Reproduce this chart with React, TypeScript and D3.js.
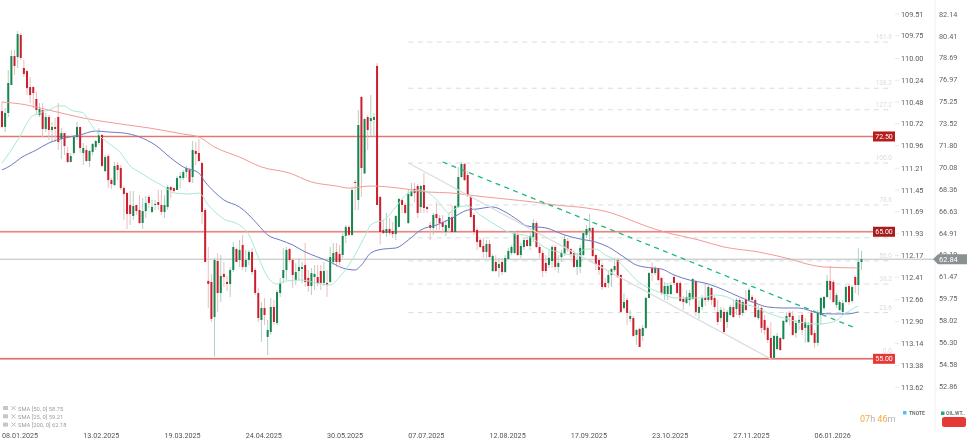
import * as d3 from "d3";

const WIDTH = 970;
const HEIGHT = 443;

// open, high, low, close
const candles: number[][] = [
  [74.5,75.21,73.17,73.25],[73.25,74.74,72.85,74.35],[74.35,77.73,74.03,76.71],[76.55,79.31,76.55,78.83],[78.83,79.31,77.34,78.05],
  [78.75,80.8,77.89,80.56],[80.49,80.64,78.52,78.68],[77.89,78.52,77.18,77.42],[77.65,77.73,75.76,76.31],[76.39,77.18,75.13,75.76],
  [76.39,76.47,74.74,75.92],[75.45,76,74.19,74.58],[74.19,75.13,74.03,74.66],[74.58,75.13,72.46,73.09],[73.09,74.35,72.85,74.03],
  [74.03,74.19,72.22,73.01],[73.01,73.64,72.06,73.25],[73.25,73.95,72.06,73.09],[74.03,75.13,71.44,72.06],[72.3,73.17,70.73,72.77],
  [72.77,72.77,71.04,71.75],[71.2,71.67,70.41,70.49],[70.49,71.2,70.49,70.96],[71.2,72.62,71.04,72.46],[72.46,73.64,72.22,73.25],
  [73.25,73.25,71.2,71.59],[71.2,71.99,70.25,71.59],[71.44,71.83,70.49,70.57],[70.57,71.44,70.1,71.36],[71.28,71.99,71.04,71.91],
  [71.67,72.22,71.44,72.14],[71.99,73.17,71.83,72.62],[72.62,72.69,70.1,70.18],[69.78,71.04,69.7,70.88],[70.96,71.12,68.44,69.07],
  [69.07,69.23,68.37,68.76],[68.68,70.49,68.6,70.18],[70.25,70.49,69.07,69.86],[70.02,70.25,68.29,68.44],[68.44,68.6,65.93,67.97],
  [68.05,68.13,65.22,66.4],[67.11,68.21,65.53,66.4],[66.24,68.21,65.93,67.03],[67.11,67.11,66.32,66.63],[66.71,67.89,65.61,65.69],
  [65.69,67.66,65.22,66.63],[66.63,67.81,66.08,67.26],[67.74,67.89,66.87,67.26],[66.56,67.5,66.48,66.95],[67.11,67.5,66.71,67.19],
  [67.34,68.29,66.71,67.11],[67.11,68.29,66.32,66.56],[66.56,67.89,66.08,67.11],[66.95,68.68,66.71,68.52],[68.52,68.6,67.66,68.29],
  [68.44,68.52,68.13,68.21],[68.29,69.39,68.29,69.23],[69.23,69.7,68.44,69.39],[69.23,69.86,69.07,69.7],[69.7,70.18,69.23,70.02],
  [69.86,70.02,68.84,68.92],[69.31,72.14,68.84,71.44],[71.36,72.06,70.25,71.12],[71.2,72.3,70.49,70.57],[70.41,70.49,65.61,66.56],
  [66.71,66.87,62.62,62.62],[61.13,63.8,59,60.89],[61.05,61.68,57.9,58.14],[58.29,62.94,55.16,62.78],[62.7,63.33,58.69,60.18],
  [60.18,63.17,59.47,61.52],[61.68,62.62,60.65,61.44],[61.05,61.52,60.34,60.89],[60.89,62.23,59.87,61.99],[61.99,64.19,61.83,63.8],
  [63.64,63.72,62.62,62.62],[62.78,64.35,62.23,63.57],[63.96,64.75,61.99,62.23],[62.23,63.57,61.83,62.78],[62.78,63.57,62.38,63.41],
  [63.41,63.72,61.6,61.83],[61.99,62.15,60.02,60.18],[60.18,60.57,57.9,58.21],[58.06,59.47,56.33,59],[59,59.79,57.66,58.45],
  [56.72,58.06,55.3,57.27],[57.11,59.79,56.88,59.08],[59.08,59.63,57.66,57.9],[57.82,60.42,57.66,60.26],[60.18,61.36,59.87,60.97],
  [61.36,63.72,60.97,61.99],[61.99,63.8,61.2,63.57],[63.64,63.72,62.62,62.78],[62.78,62.94,60.57,61.6],[61.2,62.54,60.81,61.83],
  [61.91,62.94,61.2,62.23],[62.07,62.62,60.97,62.23],[62.38,64.12,60.65,61.05],[61.36,61.99,60.26,60.73],[60.73,62.15,60.02,61.75],
  [61.44,62.38,60.42,61.68],[61.44,62.38,60.73,60.97],[61.91,62.38,60.42,60.97],[60.97,62.62,60.73,61.91],[60.97,61.99,59.87,60.81],
  [61.05,63.8,60.97,63.01],[62.62,64.12,62.38,63.33],[63.41,64.12,62.23,62.62],[63.25,63.96,62.38,62.62],[63.17,64.98,62.94,64.67],
  [64.67,65.53,64.12,65.38],[65.38,65.53,64.67,64.75],[64.75,68.44,64.67,68.29],[68.92,69.07,66.71,68.84],[67.5,74.58,66.71,73.4],
  [75.61,75.69,67.74,70.02],[69.59,73.95,69.55,73.87],[74.03,74.19,71.44,73.01],[73.72,75.76,72.46,73.95],[73.8,74.35,72.46,74.03],
  [78.05,78.28,67.11,67.11],[67.74,67.81,64,64.98],[65.14,65.93,64.82,64.9],[64.9,66.48,64.59,65.22],[65.22,66.08,64.75,64.9],
  [65.06,65.77,64.51,64.82],[64.82,66.32,64.35,66.24],[65.38,67.66,65.38,67.58],[67.5,67.58,66.48,67.11],[67.11,67.26,66.4,66.48],
  [65.69,68.29,65.61,67.97],[67.81,68.84,67.74,68.21],[68.37,68.84,67.34,68.05],[68.6,68.76,66.08,66.48],[66.95,68.68,66.48,68.6],
  [68.68,69.62,66.48,66.87],[66.95,67.03,66.48,66.79],[65.53,65.77,64.35,65.3],[65.3,66.48,64.75,66.32],[66.4,67.34,65.14,66.08],
  [66.08,66.32,65.14,65.69],[65.77,66.32,64.9,65.38],[64.98,65.93,64.67,65.53],[65.3,66.48,64.98,66.16],[66.16,67.11,64.9,64.98],
  [64.98,67.11,64.9,67.03],[66.95,70.1,66.87,69.31],[69.31,70.49,69.23,70.33],[70.33,70.41,68.99,69.07],[69.47,69.78,67.74,67.81],
  [67.74,67.81,66.08,66.16],[66.32,66.48,64.75,64.98],[65.14,65.3,63.57,64.19],[64.35,64.51,63.72,63.8],[63.88,64.51,62.94,63.41],
  [63.41,64.35,62.94,64.04],[64.04,64.35,62.94,63.01],[61.91,63.25,61.83,63.09],[62.62,63.17,61.83,61.91],[62.15,62.94,61.44,62.46],
  [62.62,62.94,61.6,61.83],[61.83,63.17,61.75,62.94],[62.86,63.72,62.78,63.49],[63.33,63.96,63.17,63.8],[63.33,65.06,63.25,64.9],
  [64.75,64.9,63.09,63.17],[63.17,64.12,62.94,63.88],[63.8,64.51,63.57,64.35],[64.35,64.59,63.8,63.88],[63.88,64.9,63.57,64.67],
  [64.59,66,64.19,65.69],[65.69,65.85,63.72,63.8],[63.8,63.96,62.94,63.33],[63.33,63.57,61.44,61.91],[62.54,63.17,61.75,61.91],
  [62.38,63.57,62.15,62.94],[62.7,63.96,62.15,63.8],[63.8,63.96,61.99,62.23],[62.23,63.17,61.75,62.54],[63.01,63.57,62.62,63.33],
  [63.25,64.75,63.09,64.43],[64.27,64.51,63.41,63.57],[63.64,63.72,62.94,63.25],[63.33,63.57,62.15,62.23],[62.23,63.33,61.6,62.78],
  [62.23,63.96,61.75,63.72],[63.17,65.14,63.09,64.9],[64.75,65.53,64.51,65.22],[65.06,66.4,64.35,65.3],[65.3,65.38,63.01,63.09],
  [63.17,63.25,61.99,62.46],[62.78,62.94,61.6,61.99],[62.38,62.54,60.42,60.65],[60.97,61.36,60.57,60.65],[60.97,61.99,60.57,61.6],
  [61.6,62.15,60.65,62.07],[61.99,62.94,61.83,62.31],[62.78,62.94,61.36,61.44],[61.6,61.68,58.61,58.69],[59,60.18,58.84,59.47],
  [59.63,59.79,57.66,58.61],[58.14,58.84,57.9,58.37],[58.21,58.37,56.72,56.8],[56.88,57.35,56.09,57.27],[57.35,57.43,55.93,55.93],
  [56.8,57.66,56.4,57.43],[57.43,59.87,57.35,59.79],[59.79,61.83,59.79,61.75],[62.15,62.62,61.13,61.75],[61.75,62.31,61.6,62.15],
  [62.07,62.15,61.13,61.2],[61.36,61.44,60.02,60.18],[60.1,61.05,59.63,60.73],[60.1,60.97,59.63,60.73],[60.1,61.05,60.02,60.81],
  [61.44,61.6,60.81,60.97],[60.97,61.05,60.1,60.18],[60.97,61.13,59.47,59.55],[59.71,59.94,58.84,59.47],[59.39,60.42,59.32,59.87],
  [59.63,60.42,59.16,60.18],[59.71,61.36,59.63,61.28],[61.13,61.2,58.37,58.69],[58.61,59.63,58.13,59.08],[59.08,60.02,58.84,59.79],
  [59.79,60.97,59.16,59.63],[59.63,60.81,59.47,60.65],[60.57,60.65,59.24,59.63],[59.79,59.94,58.84,59.08],[58.69,59.63,57.66,57.9],
  [58.21,59.08,57.9,58.84],[58.69,59,57.03,57.11],[57.9,58.84,57.43,58.69],[58.45,59.24,58.37,59.08],[59.08,59.63,58.21,58.29],
  [58.92,59.79,58.45,59.63],[59.63,59.79,58.21,58.45],[58.61,59.63,58.37,59.47],[59.63,60.42,58.77,58.84],[59.63,60.57,59.47,60.42],
  [59.87,60.02,59.39,59.63],[59.63,59.79,58.21,58.29],[58.21,59.24,58.06,58.84],[59,59.16,57.03,57.43],[58.06,58.45,56.88,57.27],
  [57.43,57.58,56.25,56.48],[56.64,57.9,54.99,55.07],[55.07,56.88,54.99,56.8],[55.77,57.03,55.69,56.8],[56.64,56.72,55.62,55.69],
  [56.56,58.06,56.48,57.98],[57.9,58.69,57.82,58.37],[58.61,58.77,57.66,58.29],[58.37,58.77,56.8,56.88],[57.03,58.06,56.64,57.82],
  [57.82,58.45,57.27,58.06],[58.45,58.61,56.88,57.27],[57.43,58.21,56.25,57.9],[56.33,57.9,56.25,57.66],[58.61,58.84,56.8,56.88],
  [57.03,57.27,55.85,56.25],[56.25,58.84,56.01,58.61],[58.45,59.87,57.66,59.79],[58.99,59.94,58.84,59.87],[59.87,61.6,59.79,61.13],
  [61.13,62.31,59.63,60.42],[61.05,61.2,59.39,59.47],[59.24,60.18,59,60.02],[58.84,59.63,58.77,59.47],[58.69,59.63,58.45,59.39],
  [59.47,60.81,59.39,60.65],[60.73,60.89,59.24,59.47],[59.55,60.81,59.39,60.65],[61.44,61.6,60.18,60.81],[60.81,63.7,60.02,62.62],
  [62.62,63.49,61.99,62.84],
];

// [candle index, value]
const sma25: number[][] = [
  [0,70.41],[3,71.44],[6,72.62],[9,73.95],[12,74.35],[15,74.58],[18,74.9],[20,74.9],[22,74.58],[26,74.35],[28,73.64],[31,72.62],[34,71.99],[38,71.2],
  [41,70.18],[44,69.7],[47,69.23],[52,68.52],[55,68.05],[60,67.97],[63,68.05],[66,67.11],[71,66],[76,65.53],[79,64.75],[82,63.01],[85,61.44],[88,60.89],
  [91,61.13],[96,61.2],[102,60.89],[105,60.81],[108,61.44],[112,62.78],[116,64.59],[118,65.53],[123,66.08],[126,66.95],[130,68.05],[134,68.29],[137,67.97],
  [140,67.26],[143,66.48],[146,66.95],[149,67.03],[153,66.32],[158,65.53],[162,64.98],[169,64.59],[174,63.72],[178,63.41],[183,63.17],[187,63.64],[190,63.64],
  [193,63.17],[197,62.7],[200,61.99],[203,61.2],[207,60.57],[211,60.18],[215,59.79],[219,59.79],[224,59.79],[228,60.02],[232,59.87],[236,59.39],[241,59.08],
  [245,58.61],[250,58.21],[255,57.9],[261,57.74],[266,57.9],[270,58.61],[274,59.16],
];
const sma50: number[][] = [
  [0,69.86],[3,70.25],[6,70.81],[11,71.44],[15,71.99],[20,72.38],[25,72.62],[30,72.93],[34,72.85],[39,72.77],[44,72.46],[49,71.83],[54,70.81],[58,70.1],
  [63,69.62],[65,68.92],[68,68.13],[71,67.5],[76,66.95],[79,66.32],[82,65.53],[85,64.75],[89,64.35],[93,63.96],[97,63.41],[101,63.01],[105,62.62],[109,62.15],
  [113,61.99],[115,62.38],[118,63.33],[122,63.64],[126,63.72],[130,64.35],[134,65.14],[139,65.53],[144,66.08],[149,66.71],[152,66.79],[157,66.95],[161,66.56],
  [165,65.93],[168,65.45],[174,65.3],[180,64.75],[185,64.43],[190,64.19],[194,63.8],[199,63.01],[203,62.38],[208,62.15],[211,62.07],[215,61.6],[220,61.2],
  [226,60.89],[231,60.42],[236,59.87],[241,59.39],[245,59.08],[250,59],[255,59],[261,58.61],[266,58.53],[270,58.53],[274,58.69],
];
const sma200: number[][] = [
  [0,75.21],[6,75.06],[15,74.58],[26,73.95],[38,73.48],[47,73.17],[58,72.69],[63,72.46],[68,71.67],[76,70.88],[83,70.1],[92,69.62],[99,68.92],[107,68.6],
  [111,68.44],[118,68.6],[127,68.44],[136,68.13],[144,68.05],[152,67.81],[161,67.58],[170,67.34],[177,67.11],[187,66.87],[195,66.48],[201,65.93],[206,65.45],
  [212,64.98],[223,64.35],[231,63.8],[242,63.41],[252,62.86],[259,62.38],[263,62.23],[274,62.15],
];

const oilTicks = ["82.14","80.41","78.69","76.97","75.25","73.52","71.80","70.08","68.36","66.63","64.91","63.19","61.47","59.75","58.02","56.30","54.58","52.86"];
const tnoteTicks = ["109.51","109.75","110.00","110.24","110.48","110.72","110.96","111.21","111.45","111.69","111.93","112.17","112.41","112.66","112.90","113.14","113.38","113.62"];
const dateLabels = ["08.01.2025","13.02.2025","19.03.2025","24.04.2025","30.05.2025","07.07.2025","12.08.2025","17.09.2025","23.10.2025","27.11.2025","06.01.2026"];
const DATE_STEP = 26;

const fibRatios = [0, 23.6, 38.2, 50, 61.8, 78.6, 100, 127.2, 138.2, 161.8];
const fibLabels = ["0.0","23.6","38.2","50.0","","78.6","100.0","127.2","138.2","161.8"];
const FIB_LOW = 55;
const FIB_HIGH = 70.41;

const levelPrices = [72.5, 65, 55];
const levelLabels = ["72.50", "65.00", "55.00"];
const levelColors = ["#b71c1c", "#a81c1c", "#e53935"];
const levelLineColors = ["#df6864", "#df6864", "#d83a3c"];
const lastPrice = 62.84;

const legendNames = ["SMA [50, 0]", "SMA [25, 0]", "SMA [200, 0]"];
const legendValues = ["58.75", "59.21", "62.18"];

// [candle index, price]
const greyTrend = [[130, 70.41], [246, 55]];
const greenTrend = [[141, 70.49], [273, 57.43]];

const FONT = "Roboto, sans-serif";
const UP = "#16864f";
const DOWN = "#cc1f2d";
const UP_WICK = "#b4cfc3";
const DOWN_WICK = "#ebbcc0";

export default function App() {
  const x = d3.scaleLinear().domain([0, candles.length - 1]).range([2, 861.5]);
  const y = d3.scaleLinear().domain([82.14, 52.86]).range([14, 386]);
  const yTnote = d3.scaleLinear().domain([109.51, 113.62]).range([14, 387]);
  const smaLine = d3
    .line<number[]>()
    .x((d) => x(d[0]))
    .y((d) => y(d[1]))
    .curve(d3.curveMonotoneX);
  const trend = d3
    .line<number[]>()
    .x((d) => x(d[0]))
    .y((d) => y(d[1]));

  return (
    <svg
      width={WIDTH}
      height={HEIGHT}
      style={{ position: "absolute", left: 0, top: 0, background: "#fff", filter: "blur(0.35px)" }}
      fontFamily={FONT}
    >
      {/* fibonacci levels */}
      {fibRatios.map((r, i) => {
        const py = y(FIB_LOW + ((FIB_HIGH - FIB_LOW) * r) / 100);
        return (
          <g key={r}>
            <line x1={x(130)} x2={893} y1={py} y2={py} stroke="#d6dee2" strokeWidth={1} strokeDasharray="5 4.5" />
            <text x={892} y={r === 0 ? py - 6 : py - 3} textAnchor="end" fontSize={6.5} fill="#d5dde2">
              {fibLabels[i]}
            </text>
          </g>
        );
      })}

      {/* grey price line */}
      <line x1={0} x2={935} y1={y(lastPrice)} y2={y(lastPrice)} stroke="#b8bcbe" strokeWidth={1} />

      {/* horizontal levels */}
      {levelPrices.map((p, i) => (
        <g key={p}>
          <line x1={0} x2={873} y1={y(p)} y2={y(p)} stroke="#f6c6c3" strokeWidth={2} />
          <line x1={0} x2={873} y1={y(p)} y2={y(p)} stroke={levelLineColors[i]} strokeWidth={0.9} />
        </g>
      ))}

      {/* candles */}
      {candles.map((c, i) => {
        const [o, h, l, cl] = c;
        const up = cl >= o;
        return (
          <line key={`w${i}`} x1={x(i)} x2={x(i)} y1={y(h)} y2={y(l)} stroke={up ? UP_WICK : DOWN_WICK} strokeWidth={1} />
        );
      })}
      {candles.map((c, i) => {
        const [o, , , cl] = c;
        const up = cl >= o;
        const top = y(Math.max(o, cl));
        const bottom = y(Math.min(o, cl));
        return (
          <rect
            key={`b${i}`}
            x={x(i) - 1}
            y={top}
            width={2}
            height={Math.max(1, bottom - top)}
            fill={up ? UP : DOWN}
          />
        );
      })}

      {/* moving averages */}
      <path d={smaLine(sma200) ?? ""} fill="none" stroke="#f49a94" strokeWidth={1} />
      <path d={smaLine(sma50) ?? ""} fill="none" stroke="#6f79c4" strokeWidth={1} />
      <path d={smaLine(sma25) ?? ""} fill="none" stroke="#a6ead2" strokeWidth={1} />

      {/* trend lines */}
      <path d={trend(greyTrend) ?? ""} fill="none" stroke="#dadee1" strokeWidth={1.3} />
      <path d={trend(greenTrend) ?? ""} fill="none" stroke="#1cb783" strokeWidth={1.3} strokeDasharray="5 4.5" />

      {/* level tags */}
      {levelPrices.map((p, i) => (
        <g key={`tag${p}`}>
          <rect x={873} y={y(p) - 5} width={22} height={10} fill={levelColors[i]} />
          <text x={884} y={y(p) + 2.6} textAnchor="middle" fontSize={7} fill="#fff">
            {levelLabels[i]}
          </text>
        </g>
      ))}

      {/* right axes */}
      <line x1={935} x2={935} y1={0} y2={431} stroke="#f0f1f2" />
      {tnoteTicks.map((t) => (
        <g key={t}>
          <line x1={895} x2={899} y1={yTnote(+t)} y2={yTnote(+t)} stroke="#e6e8ea" />
          <text x={901} y={yTnote(+t) + 2.6} fontSize={7.3} fill="#555c63">
            {t}
          </text>
        </g>
      ))}
      {oilTicks.map((t) => (
        <text key={t} x={939} y={y(+t) + 2.6} fontSize={7.3} fill="#5d646b">
          {t}
        </text>
      ))}
      <path
        d={`M933,${y(lastPrice)} L938,${y(lastPrice) - 5} L967,${y(lastPrice) - 5} L967,${y(lastPrice) + 5} L938,${y(lastPrice) + 5} Z`}
        fill="#8b9093"
      />
      <text x={939} y={y(lastPrice) + 2.7} fontSize={7.5} fill="#fff">
        {lastPrice.toFixed(2)}
      </text>

      {/* date axis */}
      {dateLabels.map((d, i) => (
        <text key={d} x={x(i * DATE_STEP)} y={438} fontSize={7.2} fill="#4f565c">
          {d}
        </text>
      ))}

      {/* indicator legend */}
      {legendNames.map((name, i) => (
        <g key={name} transform={`translate(3,${409.5 + i * 8.3})`}>
          <rect x={0} y={-3.5} width={5} height={4} fill="#c4c7c9" />
          <path d="M8.5,-3.5 L12.5,0.5 M12.5,-3.5 L8.5,0.5" stroke="#b5b8ba" strokeWidth={1} />
          <text x={15} y={1} fontSize={5.8} fill="#9a9ea1">
            {name} {legendValues[i]}
          </text>
        </g>
      ))}

      {/* bottom right */}
      <text x={860} y={422} fontSize={9} fill="#b0b4b7">
        <tspan fill="#f5a93b">07</tspan>h <tspan fill="#f5a93b">46</tspan>m
      </text>
      <rect x={903} y={411} width={3.5} height={3.5} fill="#4fc3f7" />
      <text x={909} y={415} fontSize={5} fontWeight={700} fill="#6c7378">
        TNOTE
      </text>
      <rect x={941} y={411.5} width={3.5} height={3.5} fill="#1fae6f" />
      <text x={946} y={415} fontSize={5} fontWeight={700} fill="#6c7378">
        OIL.WT..
      </text>
      <rect x={942} y={417} width={24} height={10} rx={2.5} fill="#e53935" />
    </svg>
  );
}
